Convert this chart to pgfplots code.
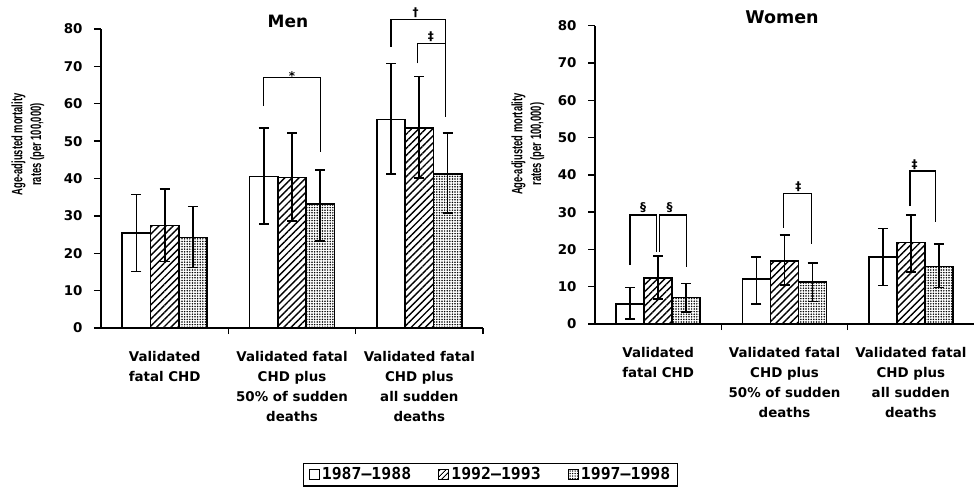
\documentclass[border=0pt]{standalone}
\usepackage{fontspec}
\setmainfont{DejaVu Sans}
\newfontfamily\lsans{Liberation Sans}
\newfontfamily\dmono{DejaVu Sans Mono}
\usepackage{graphicx}
\usepackage{pgfplots}
\pgfplotsset{compat=1.18}
\usetikzlibrary{patterns.meta}

\tikzset{
  whitebar/.style={fill=white},
  hatchbar/.style={pattern={Lines[angle=45,distance=5pt,line width=1.4pt]}, pattern color=black},
  dotbar/.style={pattern={Dots[distance=2.6pt,radius=0.85pt]}, pattern color=black},
  brk/.style={line width=1.3pt, black},
  sym/.style={font=\fontsize{12pt}{12pt}\selectfont\bfseries, inner sep=0.5pt},
}

\pgfplotsset{
  mybase/.style={
    scale only axis, anchor=south west,
    xmin=-0.5, xmax=2.5, ymin=0, ymax=80,
    axis x line*=bottom, axis y line*=left,
    x axis line style={line width=2pt},
    y axis line style={line width=1.4pt},
    tick align=outside,
    ytick={0,10,...,80},
    major tick length=7pt, minor tick length=6pt,
    major y tick style={line width=1.3pt, black},
    major x tick style={draw=none},
    minor x tick style={line width=1.3pt, black},
    xtick={0,1,2},
    xticklabels={Validated\\fatal CHD, Validated fatal\\CHD plus\\50\% of sudden\\deaths, Validated fatal\\CHD plus\\all sudden\\deaths},
    yticklabel style={font=\fontsize{13.4pt}{14pt}\selectfont\bfseries, xshift=-8pt, /pgf/number format/assume math mode=true},
    xticklabel style={font=\fontsize{13.4pt}{20pt}\selectfont\bfseries, align=center, anchor=north, yshift=-13pt},
    clip=false,
  },
  errs/.style={error bars/.cd, y dir=both, y explicit,
    error bar style={line width=1.7pt, black},
    error mark options={rotate=90, black, line width=1.7pt, mark size=5pt}},
}

\begin{document}
\begin{tikzpicture}
\path[use as bounding box] (0pt,0pt) rectangle (974pt,-491pt);

% ---------------- Men ----------------
\begin{axis}[mybase, at={(101pt,-328pt)}, width=382pt, height=299pt,
  minor xtick={0.5,1.5,2.5},
  legend columns=3,
  legend style={at={(1.0196,-0.49)}, anchor=center, draw=black, line width=1.3pt,
    font=\dmono\bfseries\fontsize{16.5pt}{18pt}\selectfont,
    /tikz/every even column/.append style={column sep=25pt},
    inner xsep=5pt, inner ysep=2.5pt},
]
\addplot[ybar, bar width=0.222, draw=black, line width=1.6pt, whitebar,
  legend image code/.code={\draw[line width=1.2pt, black, fill=white] (0pt,-5pt) rectangle (10pt,5pt);}, errs]
  coordinates {(-0.222,25.5) += (0,10.2) -= (0,10.4)
               (0.778,40.5) += (0,13.1) -= (0,12.6)
               (1.778,55.8) += (0,15.0) -= (0,14.6)};
\addlegendentry{1987\textendash1988}
\addplot[ybar, bar width=0.222, draw=black, line width=1.6pt, hatchbar,
  legend image code/.code={\draw[line width=1.2pt, black, pattern={Lines[angle=45,distance=4pt,line width=1.1pt]}] (0pt,-5pt) rectangle (10pt,5pt);}, errs]
  coordinates {(0,27.4) += (0,9.7) -= (0,9.6)
               (1,40.3) += (0,11.8) -= (0,11.6)
               (2,53.5) += (0,13.8) -= (0,13.4)};
\addlegendentry{1992\textendash1993}
\addplot[ybar, bar width=0.222, draw=black, line width=1.6pt, dotbar,
  legend image code/.code={\draw[line width=1.2pt, black, pattern={Dots[distance=2.5pt,radius=0.75pt]}] (0pt,-5pt) rectangle (10pt,5pt);}, errs]
  coordinates {(0.222,24.2) += (0,8.3) -= (0,8.0)
               (1.222,33.1) += (0,9.2) -= (0,9.9)
               (2.222,41.2) += (0,10.9) -= (0,10.5)};
\addlegendentry{1997\textendash1998}
% significance brackets
\draw[brk] (axis cs:0.778,59.4) |- (axis cs:1.222,67) -- (axis cs:1.222,47.1);
\node[sym, anchor=base] at (axis cs:1,66.3) {*};
\draw[brk] (axis cs:1.778,75.2) |- (axis cs:2.205,82.6) -- (axis cs:2.205,56.4);
\node[sym, anchor=south] at (axis cs:1.97,82.9) {†};
\draw[brk] (axis cs:1.985,70.8) |- (axis cs:2.205,76.1);
\node[sym, anchor=south] at (axis cs:2.09,76.3) {‡};
\end{axis}

% ---------------- Women ----------------
\begin{axis}[mybase, at={(595pt,-324pt)}, width=379pt, height=298.3pt,
  minor xtick={0.5,1.5},
]
\addplot[ybar, bar width=0.222, draw=black, line width=1.6pt, whitebar, errs]
  coordinates {(-0.222,5.4) += (0,4.4) -= (0,4.1)
               (0.778,12.0) += (0,6.0) -= (0,6.7)
               (1.778,17.9) += (0,7.7) -= (0,7.6)};
\addplot[ybar, bar width=0.222, draw=black, line width=1.6pt, hatchbar, errs]
  coordinates {(0,12.4) += (0,5.8) -= (0,5.7)
               (1,16.9) += (0,6.9) -= (0,6.4)
               (2,21.9) += (0,7.3) -= (0,7.9)};
\addplot[ybar, bar width=0.222, draw=black, line width=1.6pt, dotbar, errs]
  coordinates {(0.222,7.1) += (0,3.8) -= (0,3.8)
               (1.222,11.2) += (0,5.1) -= (0,5.2)
               (2.222,15.4) += (0,6.0) -= (0,5.6)};
% significance brackets
\draw[brk] (axis cs:-0.222,15.8) |- (axis cs:-0.012,29.2) -- (axis cs:-0.012,19.4);
\draw[brk] (axis cs:0.009,19.4) |- (axis cs:0.222,29.2) -- (axis cs:0.222,15.4);
\node[sym, anchor=south] at (axis cs:-0.12,29.6) {§};
\node[sym, anchor=south] at (axis cs:0.09,29.6) {§};
\draw[brk] (axis cs:0.99,25.8) |- (axis cs:1.216,35.0) -- (axis cs:1.216,21.4);
\node[sym, anchor=south] at (axis cs:1.11,35.2) {‡};
\draw[brk] (axis cs:1.994,31.6) |- (axis cs:2.197,41.0) -- (axis cs:2.197,27.4);
\node[sym, anchor=south] at (axis cs:2.03,41.2) {‡};
\end{axis}

% titles
\node[anchor=base, font=\fontsize{17pt}{17pt}\selectfont\bfseries] at (288pt,-27pt) {Men};
\node[anchor=base, font=\fontsize{17.5pt}{17pt}\selectfont\bfseries] at (782pt,-23pt) {Women};

% y labels
\node[rotate=90, font=\lsans\bfseries\fontsize{9.4pt}{11.8pt}\selectfont] at (28pt,-144.5pt)
  {\scalebox{1}[1.6]{\begin{tabular}{@{}c@{}}Age-adjusted mortality\\rates (per 100,000)\end{tabular}}};
\node[rotate=90, font=\lsans\bfseries\fontsize{9.4pt}{11.8pt}\selectfont] at (528pt,-144pt)
  {\scalebox{1}[1.6]{\begin{tabular}{@{}c@{}}Age-adjusted mortality\\rates (per 100,000)\end{tabular}}};
\end{tikzpicture}
\end{document}
